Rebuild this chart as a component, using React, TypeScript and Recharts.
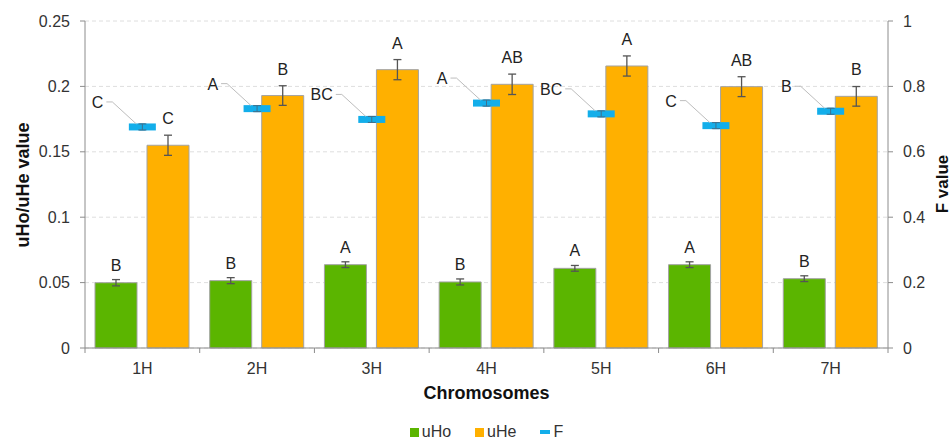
import {
  ComposedChart,
  Bar,
  Line,
  XAxis,
  YAxis,
  CartesianGrid,
  ErrorBar,
  LabelList,
  Legend,
} from 'recharts';

const categories = ['1H', '2H', '3H', '4H', '5H', '6H', '7H'];
const uHo = [0.0499, 0.0515, 0.0637, 0.0505, 0.0609, 0.0637, 0.053];
const uHoErr = [0.0024, 0.0023, 0.0022, 0.0023, 0.0022, 0.0022, 0.0022];
const uHe = [0.155, 0.193, 0.2128, 0.2016, 0.2156, 0.1998, 0.1924];
const uHeErr = [0.0077, 0.0075, 0.0077, 0.0078, 0.0077, 0.0076, 0.0075];
const fValue = [0.676, 0.732, 0.699, 0.749, 0.716, 0.68, 0.724];
const fErr = [0.009, 0.009, 0.009, 0.009, 0.009, 0.009, 0.009];
const uHoLetters = ['B', 'B', 'A', 'B', 'A', 'A', 'B'];
const uHeLetters = ['C', 'B', 'A', 'AB', 'A', 'AB', 'B'];
const fLetters = ['C', 'A', 'BC', 'A', 'BC', 'C', 'B'];
const leftTicks = [0, 0.05, 0.1, 0.15, 0.2, 0.25];
const rightTicks = [0, 0.2, 0.4, 0.6, 0.8, 1];

const GREEN = '#5BB500';
const ORANGE = '#FFB000';
const BLUE = '#13AEEA';
const AXIS = '#8c8c8c';
const FONT = '"Liberation Sans", Arial, sans-serif';

const W = 952;
const H = 439;
const PLOT_LEFT = 85;
const PLOT_RIGHT = 888;
const BAND = (PLOT_RIGHT - PLOT_LEFT) / categories.length;

const data = categories.map((c, i) => ({
  name: c,
  uHo: uHo[i],
  uHoErr: uHoErr[i],
  uHoLetter: uHoLetters[i],
  uHe: uHe[i],
  uHeErr: uHeErr[i],
  uHeLetter: uHeLetters[i],
  F: fValue[i],
  fErr: fErr[i],
  fLetter: fLetters[i],
}));

// category ticks sit on the band boundaries, labels in the middle
function XTick(props: any) {
  const { x, y, payload, index } = props;
  const left = x - BAND / 2;
  return (
    <g>
      <line x1={left} y1={348} x2={left} y2={353} stroke={AXIS} />
      {index === categories.length - 1 && (
        <line x1={x + BAND / 2} y1={348} x2={x + BAND / 2} y2={353} stroke={AXIS} />
      )}
      <text x={x} y={y + 12} textAnchor="middle" fontSize={16} fill="#333" fontFamily={FONT}>
        {payload.value}
      </text>
    </g>
  );
}

function FDot(props: any) {
  const { cx, cy, index } = props;
  if (cx == null || cy == null) return null;
  return (
    <g key={`fd-${index}`}>
      <rect x={cx - 13.5} y={cy - 3.5} width={27} height={7} fill={BLUE} />
      <line x1={cx - 4} y1={cy - 3} x2={cx + 4} y2={cy - 3} stroke="#3f6f8c" strokeWidth={1} />
      <line x1={cx} y1={cy - 3} x2={cx} y2={cy + 3} stroke="#3f6f8c" strokeWidth={1} />
      <line x1={cx - 4} y1={cy + 3} x2={cx + 4} y2={cy + 3} stroke="#3f6f8c" strokeWidth={1} />
    </g>
  );
}

function FLabel(props: any) {
  const { x, y, value } = props;
  return (
    <g>
      <polyline
        points={`${x - 36},${y - 25} ${x - 30},${y - 25} ${x - 6},${y - 3}`}
        fill="none"
        stroke="#bdbdbd"
        strokeWidth={1}
      />
      <text x={x - 39} y={y - 19} textAnchor="end" fontSize={16} fill="#222" fontFamily={FONT}>
        {value}
      </text>
    </g>
  );
}

function LegendContent() {
  const item = { display: 'flex', alignItems: 'center', gap: 3 } as const;
  return (
    <div
      style={{
        display: 'flex',
        justifyContent: 'center',
        gap: 24,
        fontFamily: FONT,
        fontSize: 16,
        color: '#333',
      }}
    >
      <div style={item}>
        <span style={{ width: 9, height: 9, background: GREEN, display: 'inline-block' }} />
        <span>uHo</span>
      </div>
      <div style={item}>
        <span style={{ width: 9, height: 9, background: ORANGE, display: 'inline-block' }} />
        <span>uHe</span>
      </div>
      <div style={item}>
        <span style={{ width: 10, height: 4, background: BLUE, display: 'inline-block' }} />
        <span>F</span>
      </div>
    </div>
  );
}

export default function App() {
  return (
    <div style={{ position: 'absolute', left: 0, top: 0, width: W, height: H, background: '#fff' }}>
      <ComposedChart
        width={W}
        height={H}
        data={data}
        margin={{ top: 21, right: 0, bottom: 61, left: 0 }}
        barCategoryGap={10}
        barGap={10}
      >
        <CartesianGrid
          yAxisId="left"
          vertical={false}
          stroke="#dedede"
          strokeDasharray="4 3"
        />
        <XAxis
          dataKey="name"
          height={30}
          tickLine={false}
          tickSize={5}
          tickMargin={9}
          axisLine={{ stroke: AXIS }}
          tick={<XTick />}
          label={{
            content: () => (
              <text
                x={(PLOT_LEFT + PLOT_RIGHT) / 2}
                y={399}
                textAnchor="middle"
                fontSize={18}
                fontWeight="bold"
                fill="#111"
                fontFamily={FONT}
              >
                Chromosomes
              </text>
            ),
          }}
        />
        <YAxis
          yAxisId="left"
          width={85}
          domain={[0, 0.25]}
          ticks={leftTicks}
          tickSize={5}
          tickMargin={10}
          axisLine={{ stroke: AXIS }}
          tickLine={{ stroke: AXIS }}
          tick={{ fontSize: 16, fill: '#333', fontFamily: FONT }}
          label={{
            content: () => (
              <text
                transform="translate(29,185) rotate(-90)"
                textAnchor="middle"
                fontSize={18}
                fontWeight="bold"
                fill="#111"
                fontFamily={FONT}
              >
                uHo/uHe value
              </text>
            ),
          }}
        />
        <YAxis
          yAxisId="right"
          orientation="right"
          width={64}
          domain={[0, 1]}
          ticks={rightTicks}
          tickSize={5}
          tickMargin={10}
          axisLine={{ stroke: AXIS }}
          tickLine={{ stroke: AXIS }}
          tick={{ fontSize: 16, fill: '#333', fontFamily: FONT }}
          label={{
            content: () => (
              <text
                transform="translate(948,184) rotate(-90)"
                textAnchor="middle"
                fontSize={17}
                fontWeight="bold"
                fill="#111"
                fontFamily={FONT}
              >
                F value
              </text>
            ),
          }}
        />
        <Legend
          verticalAlign="middle"
          wrapperStyle={{ top: 423, left: PLOT_LEFT, width: PLOT_RIGHT - PLOT_LEFT }}
          content={<LegendContent />}
        />
        <Bar
          yAxisId="left"
          dataKey="uHo"
          fill={GREEN}
          stroke="#a3a3a3"
          strokeWidth={1}
          isAnimationActive={false}
        >
          <ErrorBar dataKey="uHoErr" width={4} stroke="#555" strokeWidth={1.3} direction="y" />
          <LabelList
            dataKey="uHoLetter"
            position="top"
            offset={12}
            style={{ fontSize: 16, fill: '#222', fontFamily: FONT }}
          />
        </Bar>
        <Bar
          yAxisId="left"
          dataKey="uHe"
          fill={ORANGE}
          stroke="#a3a3a3"
          strokeWidth={1}
          isAnimationActive={false}
        >
          <ErrorBar dataKey="uHeErr" width={4} stroke="#555" strokeWidth={1.3} direction="y" />
          <LabelList
            dataKey="uHeLetter"
            position="top"
            offset={21}
            style={{ fontSize: 16, fill: '#222', fontFamily: FONT }}
          />
        </Bar>
        <Line
          yAxisId="right"
          dataKey="F"
          stroke="none"
          dot={<FDot />}
          activeDot={false}
          isAnimationActive={false}
        >
          <ErrorBar dataKey="fErr" width={3} stroke="#3f6f8c" strokeWidth={1} direction="y" />
          <LabelList dataKey="fLetter" content={<FLabel />} />
        </Line>
      </ComposedChart>
    </div>
  );
}
